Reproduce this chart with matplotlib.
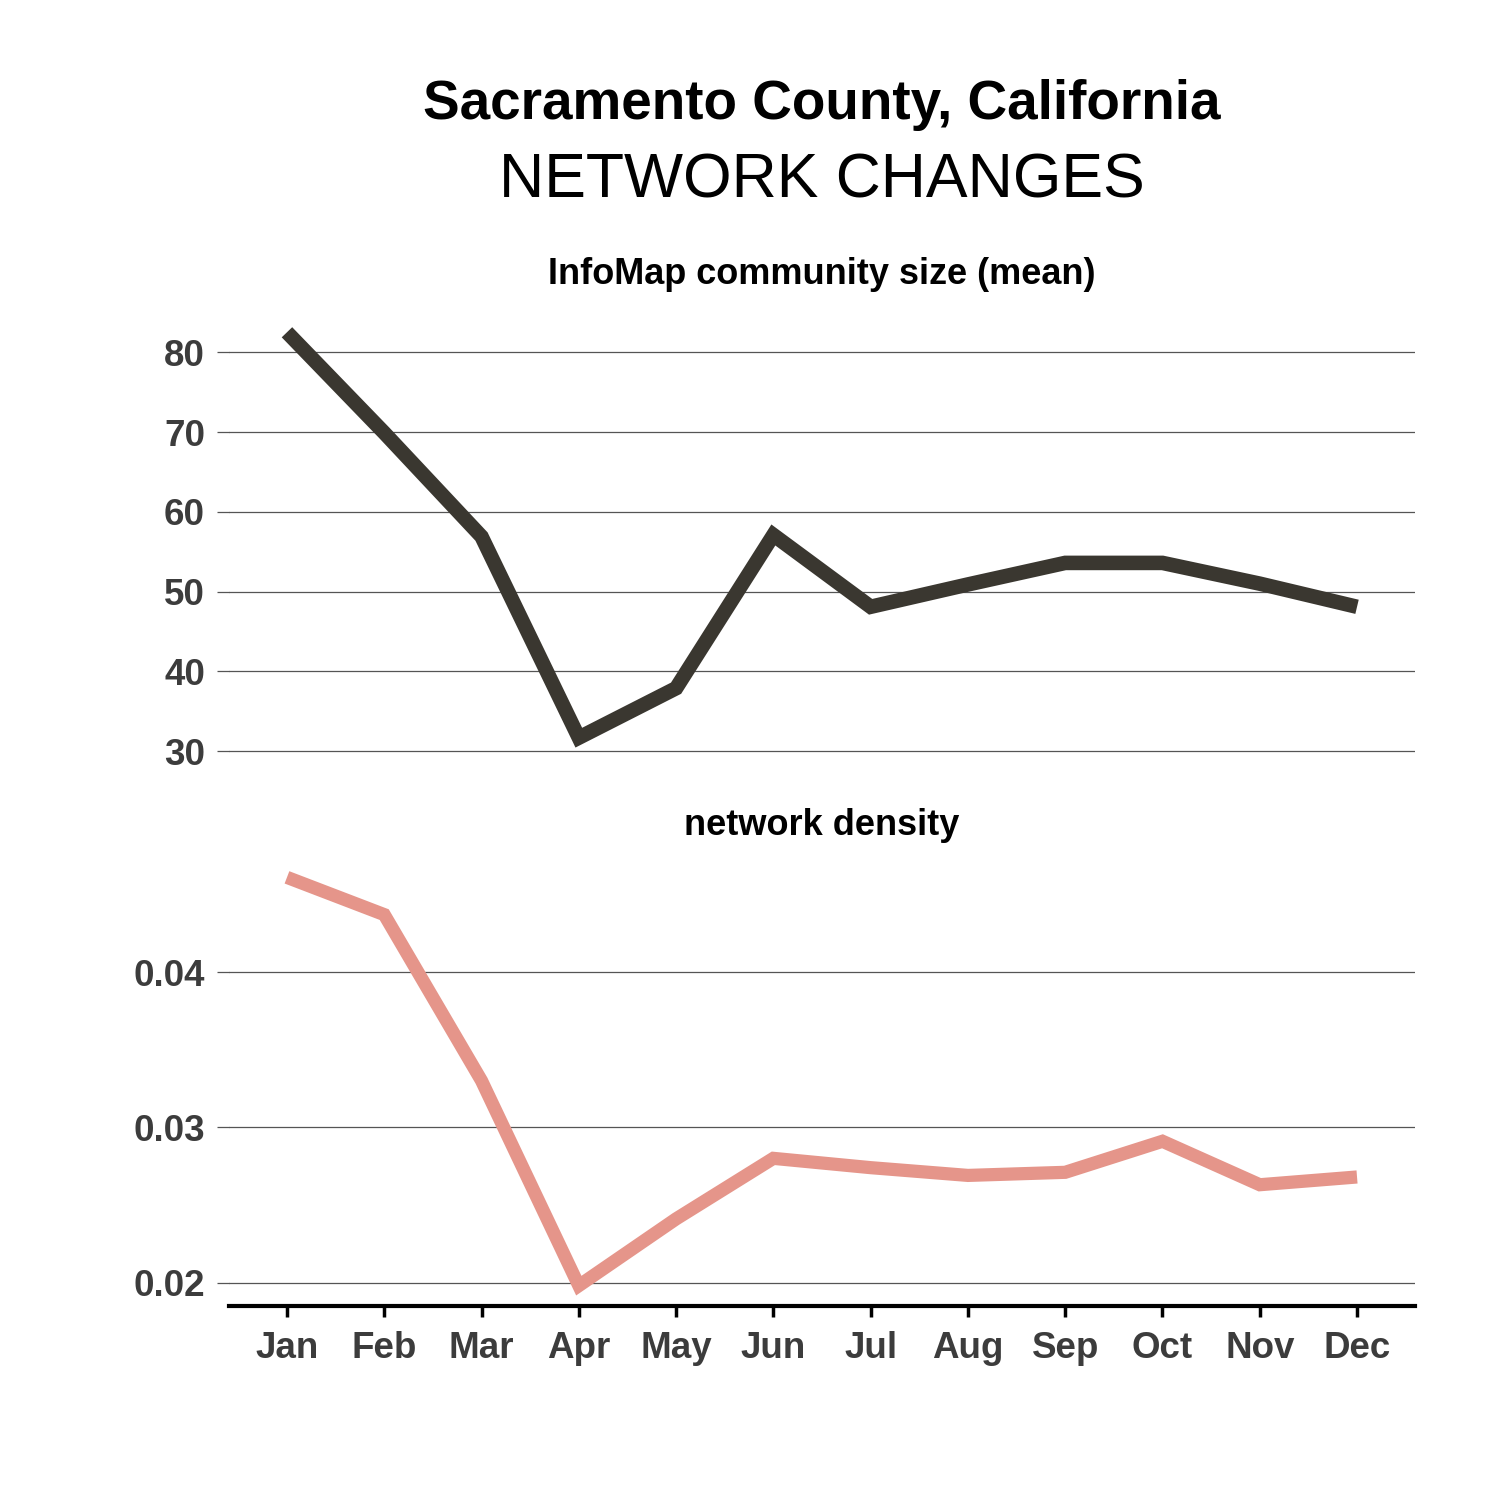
import matplotlib
matplotlib.use("Agg")
import matplotlib.pyplot as plt

months = ["Jan", "Feb", "Mar", "Apr", "May", "Jun", "Jul", "Aug", "Sep", "Oct", "Nov", "Dec"]
community_size = [82.5, 69.9, 56.9, 31.7, 37.9, 57.1, 48.1, 50.9, 53.6, 53.6, 51.0, 48.1]
density = [0.0461, 0.0437, 0.0330, 0.0198, 0.0241, 0.0280, 0.0274, 0.0269, 0.0271, 0.0291, 0.0263, 0.0268]
top_ticks = [30, 40, 50, 60, 70, 80]
bottom_ticks = [0.02, 0.03, 0.04]
bottom_ticklabels = ["0.02", "0.03", "0.04"]

plt.rcParams['font.family'] = ['Liberation Sans', 'DejaVu Sans']

fig = plt.figure(figsize=(15, 15), dpi=100)
left, right = 0.1524, 0.9436
ax1 = fig.add_axes([left, 0.4947, right - left, 0.792 - 0.4947])
ax2 = fig.add_axes([left, 0.1293, right - left, 0.4287 - 0.1293])

x = list(range(len(months)))
ax1.plot(x, community_size, color="#3a3730", lw=10.5, solid_capstyle="butt", solid_joinstyle="miter")
ax2.plot(x, density, color="#e5958a", lw=9.5, solid_capstyle="butt", solid_joinstyle="miter")

def expand(vals):
    lo, hi = min(vals), max(vals)
    pad = (hi - lo) * 0.05
    return lo - pad, hi + pad

ax1.set_ylim(*expand(community_size))
ax2.set_ylim(*expand(density))

for ax in (ax1, ax2):
    ax.set_xlim(-0.6, len(months) - 0.4)
    for s in ax.spines.values():
        s.set_visible(False)
    ax.yaxis.grid(True, color="#555555", lw=0.9)
    ax.set_axisbelow(True)
    ax.tick_params(axis="y", length=9, width=0.9, color="#555555", pad=8,
                   labelsize=26.5, labelcolor="#3c3c3c")

ax1.set_yticks(top_ticks)
ax1.set_yticklabels([str(t) for t in top_ticks], fontweight="bold")
ax1.set_xticks([])

ax2.set_yticks(bottom_ticks)
ax2.set_yticklabels(bottom_ticklabels, fontweight="bold")
ax2.set_xticks(x)
ax2.set_xticklabels(months, fontweight="bold")
ax2.spines["bottom"].set_visible(True)
ax2.spines["bottom"].set_linewidth(3)
ax2.spines["bottom"].set_color("black")
ax2.tick_params(axis="x", length=8, width=2.5, color="black", pad=10,
                labelsize=26.5, labelcolor="#3c3c3c")

ax1.set_title("InfoMap community size (mean)", fontsize=26, fontweight="bold", pad=20)
ax2.set_title("network density", fontsize=26, fontweight="bold", pad=16)

cx = (left + right) / 2
fig.text(cx, 1 - 105 / 1500, "Sacramento County, California", ha="center", va="center",
         fontsize=39.5, fontweight="bold")
fig.text(cx, 1 - 181 / 1500, "NETWORK CHANGES", ha="center", va="center", fontsize=45)

fig.savefig("out.png", dpi=100, facecolor="white")
